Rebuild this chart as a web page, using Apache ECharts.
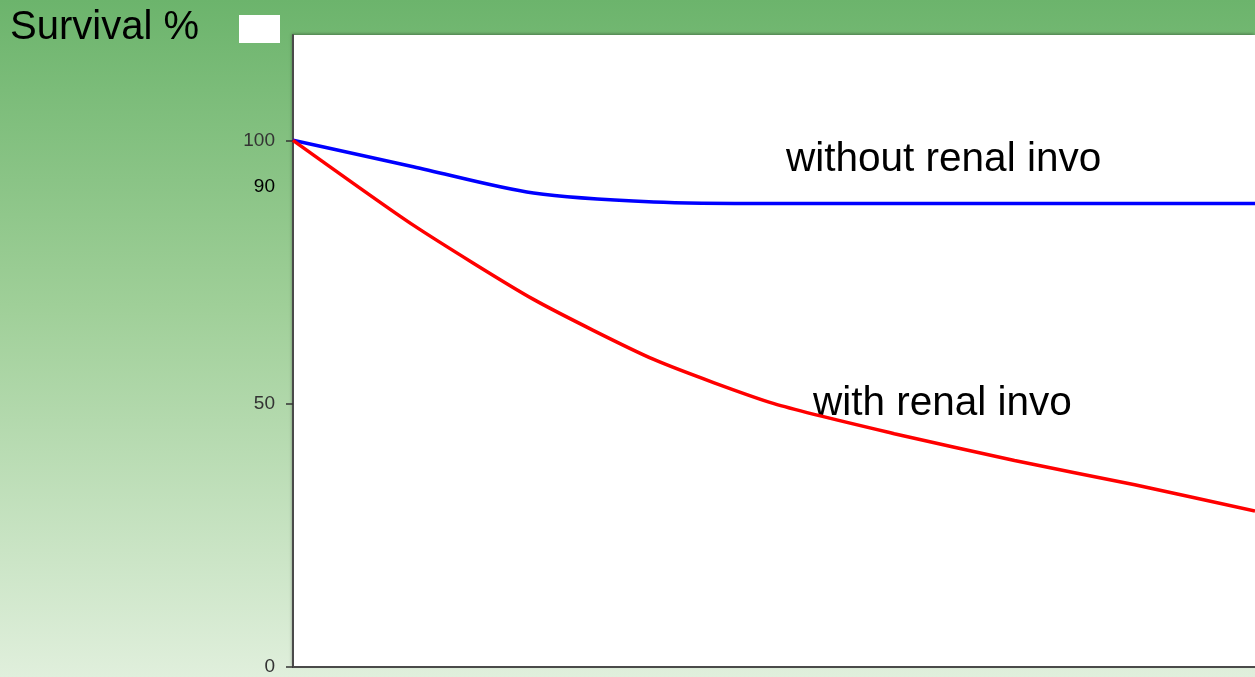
<!DOCTYPE html>
<html>
<head>
<meta charset="utf-8">
<script src="https://cdn.jsdelivr.net/npm/echarts@6/dist/echarts.min.js"></script>
<style>
  html, body { margin: 0; padding: 0; }
  #chart { width: 1255px; height: 677px; }
</style>
</head>
<body>
<div id="chart"></div>
<script>
// Years of follow-up
const years = [0, 1, 2, 3, 4, 5, 6, 7, 8];
// Survival (%) without renal involvement
const withoutRenal = [100, 95.0, 90.0, 88.3, 88.0, 88.0, 88.0, 88.0, 88.0];
// Survival (%) with renal involvement
const withRenal = [100, 83.9, 69.8, 58.4, 50.0, 44.3, 39.2, 34.6, 29.6];
// Y-axis labels and tick marks
const yLabelValues = [0, 50, 90, 100];
const yTickValues = [0, 50, 100];

const pairs = (xs, ys) => xs.map((x, i) => [x, ys[i]]);
const FONT = '"Liberation Sans", Arial, sans-serif';

const chart = echarts.init(document.getElementById('chart'));
chart.setOption({
  animation: false,
  backgroundColor: new echarts.graphic.LinearGradient(0, 0, 0, 1, [
    { offset: 0, color: '#6cb46c' },
    { offset: 0.45, color: '#9fcf98' },
    { offset: 1, color: '#e0efdc' }
  ]),
  grid: {
    left: 293, top: 35, bottom: 10, right: -16,
    show: true, backgroundColor: '#ffffff', borderWidth: 0,
    shadowColor: 'rgba(0,0,0,0.35)', shadowBlur: 3, shadowOffsetX: -1, shadowOffsetY: -1
  },
  xAxis: {
    type: 'value', min: 0, max: 8,
    axisLine: { show: true, onZero: false, lineStyle: { color: '#4a4a4a', width: 2 } },
    axisTick: { show: false }, axisLabel: { show: false }, splitLine: { show: false }
  },
  yAxis: {
    type: 'value', min: 0, max: 120, interval: 10,
    axisLine: { show: true, lineStyle: { color: '#4a4a4a', width: 2 } },
    axisTick: { show: true, customValues: yTickValues, length: 7, lineStyle: { color: '#333', width: 1.5 } },
    axisLabel: {
      customValues: yLabelValues, margin: 18,
      fontFamily: FONT, fontSize: 19, color: '#333',
      formatter: v => v === 90 ? '{n|90}' : String(v),
      rich: { n: { fontFamily: FONT, fontSize: 19, color: '#000', padding: [0, 0, 12, 0] } }
    },
    splitLine: { show: false }
  },
  series: [
    {
      type: 'line', data: pairs(years, withoutRenal), smooth: 0.3,
      symbol: 'none', lineStyle: { color: '#0000ff', width: 3.5 }
    },
    {
      type: 'line', data: pairs(years, withRenal), smooth: 0.2,
      symbol: 'none', lineStyle: { color: '#ff0000', width: 3.5 }
    }
  ],
  graphic: [
    { type: 'text', left: 10, top: 8, style: { text: 'Survival %', font: '40px ' + FONT, fill: '#000' } },
    { type: 'rect', left: 239, top: 15, shape: { width: 41, height: 28 }, style: { fill: '#ffffff' } },
    { type: 'text', left: 786, top: 139, style: { text: 'without renal invo', font: '40.5px ' + FONT, fill: '#000' } },
    { type: 'text', left: 813, top: 383, style: { text: 'with renal invo', font: '40.5px ' + FONT, fill: '#000' } }
  ]
});
</script>
</body>
</html>
